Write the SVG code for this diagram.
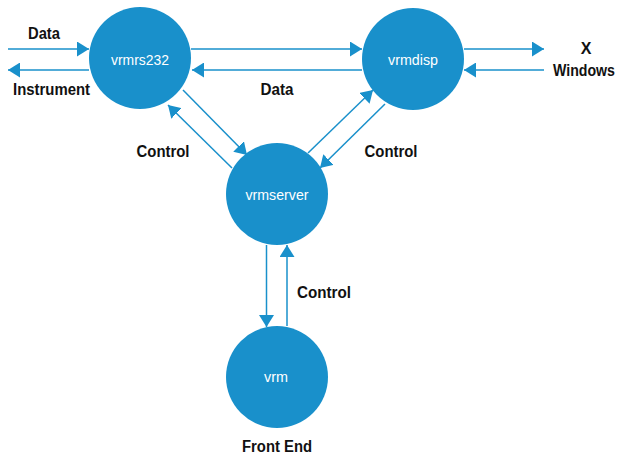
<svg xmlns="http://www.w3.org/2000/svg" width="623" height="454" viewBox="0 0 623 454">
<defs>
<marker id="ah" markerUnits="userSpaceOnUse" markerWidth="13" markerHeight="15" refX="12" refY="7.5" orient="auto">
<path d="M0,0 L12,7.5 L0,15 z" fill="#1990cb"/>
</marker>
<style>
.node{fill:#1990cb}
.nl{font-family:"Liberation Sans",Arial,sans-serif;font-size:15px;fill:#fff;text-anchor:middle}
.lb{font-family:"Liberation Sans",Arial,sans-serif;font-size:16px;font-weight:bold;fill:#111}
.c{stroke:#1990cb;stroke-width:1.5;fill:none;marker-end:url(#ah)}
</style>
</defs>
<rect width="623" height="454" fill="#fff"/>
<g id="connectors">
<line class="c" x1="8" y1="49" x2="89" y2="49"/>
<line class="c" x1="89" y1="70" x2="8" y2="70"/>
<line class="c" x1="191" y1="49" x2="362" y2="49"/>
<line class="c" x1="362" y1="70" x2="192" y2="70"/>
<line class="c" x1="464" y1="49" x2="544" y2="49"/>
<line class="c" x1="544" y1="70" x2="464" y2="70"/>
<line class="c" x1="183" y1="90" x2="247" y2="155"/>
<line class="c" x1="232" y1="168" x2="168" y2="105"/>
<line class="c" x1="308" y1="153" x2="373" y2="90"/>
<line class="c" x1="385" y1="104" x2="320" y2="168"/>
<line class="c" x1="266.5" y1="245" x2="266.5" y2="327"/>
<line class="c" x1="287" y1="326" x2="287" y2="245"/>
</g>
<g id="vrmrs232">
<circle class="node" cx="140" cy="58" r="51"/>
<text class="nl" x="140" y="65" textLength="58" lengthAdjust="spacingAndGlyphs">vrmrs232</text>
</g>
<g id="vrmdisp">
<circle class="node" cx="413" cy="59" r="51"/>
<text class="nl" x="413" y="65" textLength="50" lengthAdjust="spacingAndGlyphs">vrmdisp</text>
</g>
<g id="vrmserver">
<circle class="node" cx="277" cy="194" r="51"/>
<text class="nl" x="277" y="200" textLength="63" lengthAdjust="spacingAndGlyphs">vrmserver</text>
</g>
<g id="vrm">
<circle class="node" cx="277" cy="377" r="51"/>
<text class="nl" x="276" y="382" textLength="24" lengthAdjust="spacingAndGlyphs">vrm</text>
</g>
<g id="labels">
<text class="lb" x="28" y="39" textLength="32" lengthAdjust="spacingAndGlyphs">Data</text>
<text class="lb" x="13" y="95" textLength="77" lengthAdjust="spacingAndGlyphs">Instrument</text>
<text class="lb" x="277" y="95" text-anchor="middle" textLength="33" lengthAdjust="spacingAndGlyphs">Data</text>
<text class="lb" x="586" y="54" text-anchor="middle">X</text>
<text class="lb" x="584" y="76" text-anchor="middle" textLength="62" lengthAdjust="spacingAndGlyphs">Windows</text>
<text class="lb" x="163" y="157" text-anchor="middle" textLength="53" lengthAdjust="spacingAndGlyphs">Control</text>
<text class="lb" x="391" y="157" text-anchor="middle" textLength="53" lengthAdjust="spacingAndGlyphs">Control</text>
<text class="lb" x="324" y="298" text-anchor="middle" textLength="54" lengthAdjust="spacingAndGlyphs">Control</text>
<text class="lb" x="277" y="452" text-anchor="middle" textLength="70" lengthAdjust="spacingAndGlyphs">Front End</text>
</g>
</svg>
